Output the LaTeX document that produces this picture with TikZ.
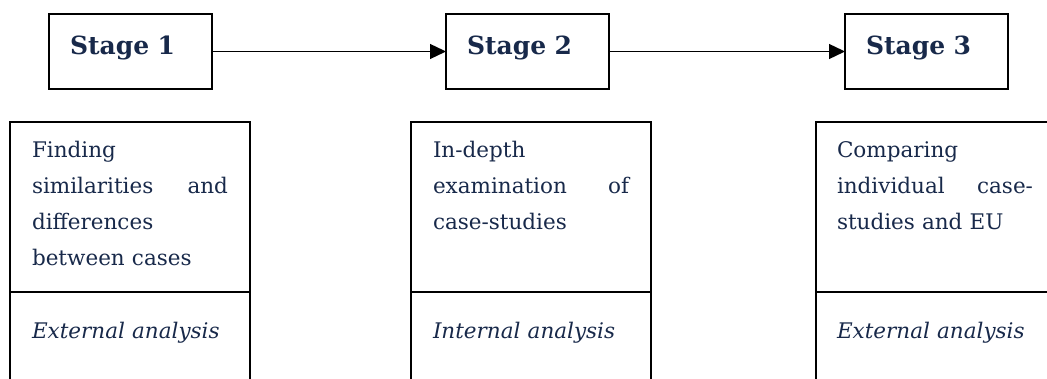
\documentclass[tikz,border=0pt]{standalone}
\usepackage{fontspec}
\setmainfont{DejaVu Serif}
\usetikzlibrary{positioning,arrows.meta}
\definecolor{stagenavy}{HTML}{18294A}
\begin{document}
\begin{tikzpicture}[
        x=1pt, y=-1pt,
        every node/.style={outer sep=0pt, text=stagenavy},
        stagebox/.style={draw=black, line width=1.9pt, anchor=north west, text width=121pt,
          inner xsep=21pt, inner ysep=0pt, text height=41pt, text depth=34pt, align=left,
          font=\fontsize{25}{30}\selectfont\bfseries},
        upperbox/.style={draw=black, line width=1.9pt, anchor=north west, minimum width=240pt,
          minimum height=170pt, inner sep=0pt},
        lowerbox/.style={upperbox, minimum height=130pt},
        desctext/.style={anchor=base west, text width=196pt, inner sep=0pt, align=left,
          font=\fontsize{21.5}{36}\selectfont},
        flow/.style={line width=1.3pt, -{Triangle[length=16pt, width=15pt]}}
      ]
      \useasboundingbox (0,0) rectangle (1047,379);
      \clip (0,0) rectangle (1047,379);
      \node[stagebox] (s1) at (49,14) {Stage 1};
      \node[stagebox, right=234pt of s1] (s2) {Stage 2};
      \node[stagebox, right=236pt of s2] (s3) {Stage 3};
      \draw[flow] (s1) -- (s2);
      \draw[flow] (s2) -- (s3);

      \node[upperbox] (f1) at (10,122) {};
      \node[upperbox] (f2) at (411,122) {};
      \node[upperbox] (f3) at (816,122) {};
      \node[lowerbox, below=0pt of f1] (g1) {};
      \node[lowerbox, below=0pt of f2] (g2) {};
      \node[lowerbox, below=0pt of f3] (g3) {};

      \node[desctext] (t1) at ([shift={(22,36)}]f1.north west)
        {Finding\\similarities\hfill and\\differences\\between cases};
      \node[desctext] (t2) at ([shift={(22,36)}]f2.north west)
        {In-depth\\examination\hfill of\\case-studies};
      \node[desctext] (t3) at ([shift={(21,36)}]f3.north west)
        {Comparing\\individual\hfill case-\\studies and EU};
      \node[desctext] (e1) at ([shift={(22,47)}]g1.north west) {\itshape External analysis};
      \node[desctext] (e2) at ([shift={(22,47)}]g2.north west) {\itshape Internal analysis};
      \node[desctext] (e3) at ([shift={(21,47)}]g3.north west) {\itshape External analysis};
    \end{tikzpicture}
\end{document}
